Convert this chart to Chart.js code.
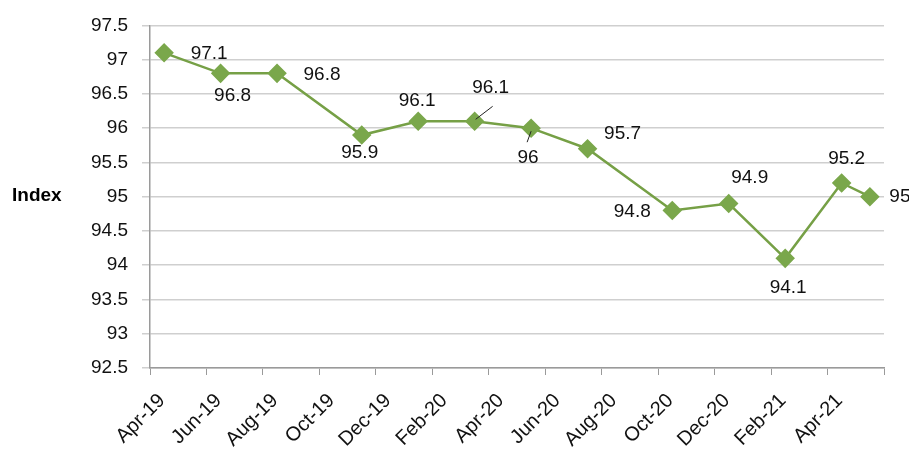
<!DOCTYPE html>
<html lang="en">
<head>
    <meta charset="UTF-8">
    <title>Index</title>
    <script src="https://cdn.jsdelivr.net/npm/chart.js"></script>
    <style>
        html, body { margin: 0; padding: 0; background: #fff; }
        #wrap { width: 909px; height: 450px; position: relative; }
    </style>
</head>
<body>
    <div id="wrap">
        <canvas id="indexChart" width="909" height="450"></canvas>
    </div>

<script>
// dados: meses desde Apr-19 (meio do mês) e valores do índice
const pointMonths = [0.5, 2.5, 4.5, 7.5, 9.5, 11.5, 13.5, 15.5, 18.5, 20.5, 22.5, 24.5, 25.5];
const indexValues = [97.1, 96.8, 96.8, 95.9, 96.1, 96.1, 96.0, 95.7, 94.8, 94.9, 94.1, 95.2, 95.0];
const pointLabels = ['97.1', '96.8', '96.8', '95.9', '96.1', '96.1', '96', '95.7', '94.8', '94.9', '94.1', '95.2', '95'];
const tickLabels = ['Apr-19', 'Jun-19', 'Aug-19', 'Oct-19', 'Dec-19', 'Feb-20', 'Apr-20',
                    'Jun-20', 'Aug-20', 'Oct-20', 'Dec-20', 'Feb-21', 'Apr-21', ''];
const yTicks = [92.5, 93, 93.5, 94, 94.5, 95, 95.5, 96, 96.5, 97, 97.5];

// posição dos rótulos relativa ao ponto (estilo)
const labelOffsets = [[45, 1], [12, 22], [45, 1], [-2, 18], [-1, -21], [16, -34], [-3, 30],
                      [35, -15], [-40, 1], [21, -26], [3, 29], [5, -24], [30, 0]];
const leaderLines = { 5: [[18, -15], [1, -2]], 6: [[0, 3], [-4, 14]] };

const FONT = '"Liberation Sans", Arial, sans-serif';
const green = '#76a046';

// rótulos de dados e título "Index"
const labelPlugin = {
    id: 'labelPlugin',
    afterDatasetsDraw(chart) {
        const ctx = chart.ctx;
        const meta = chart.getDatasetMeta(0);
        ctx.save();
        ctx.font = '19px ' + FONT;
        ctx.fillStyle = '#111';
        ctx.textAlign = 'center';
        ctx.textBaseline = 'middle';
        meta.data.forEach((pt, i) => {
            const off = labelOffsets[i];
            ctx.fillText(pointLabels[i], pt.x + off[0], pt.y + off[1]);
            if (leaderLines[i]) {
                const l = leaderLines[i];
                ctx.beginPath();
                ctx.strokeStyle = '#222';
                ctx.lineWidth = 1;
                ctx.moveTo(pt.x + l[0][0], pt.y + l[0][1]);
                ctx.lineTo(pt.x + l[1][0], pt.y + l[1][1]);
                ctx.stroke();
            }
        });
        // titulo do eixo y (horizontal)
        const y = chart.scales.y;
        ctx.font = 'bold 19px ' + FONT;
        ctx.textAlign = 'left';
        ctx.fillStyle = '#000';
        ctx.fillText('Index', 12, y.getPixelForValue(95) - 1);
        ctx.restore();
    }
};

const data = pointMonths.map((m, i) => ({ x: m, y: indexValues[i] }));

const ctx = document.getElementById('indexChart').getContext('2d');
new Chart(ctx, {
    type: 'line',
    data: {
        datasets: [{
            label: 'Index',
            data: data,
            borderColor: green,
            backgroundColor: green,
            borderWidth: 2.5,
            pointStyle: 'rectRot',
            pointRadius: 8,
            pointBackgroundColor: '#7aa74b',
            pointBorderColor: '#7aa74b',
            tension: 0
        }]
    },
    options: {
        responsive: false,
        animation: false,
        layout: { padding: { top: 21, right: 25, left: 0, bottom: 0 } },
        plugins: {
            legend: { display: false },
            tooltip: { enabled: false }
        },
        scales: {
            x: {
                type: 'linear',
                min: 0,
                max: 26,
                afterBuildTicks: s => { s.ticks = tickLabels.map((t, i) => ({ value: i * 2 })); },
                afterFit: s => { s.height = 82; s.paddingRight = 0; s.paddingLeft = 0; },
                ticks: {
                    autoSkip: false,
                    minRotation: 45,
                    maxRotation: 45,
                    labelOffset: 12,
                    padding: 14,
                    color: '#111',
                    font: { family: FONT, size: 20 },
                    callback: (v, i) => tickLabels[i]
                },
                grid: { drawOnChartArea: false, drawTicks: true, tickLength: 7, color: '#9a9a9a' },
                border: { color: '#9a9a9a', width: 1.5 }
            },
            y: {
                min: 92.5,
                max: 97.5,
                afterBuildTicks: s => { s.ticks = yTicks.map(v => ({ value: v })); },
                afterFit: s => { s.width = 150; },
                ticks: {
                    padding: 14,
                    color: '#111',
                    font: { family: FONT, size: 19 },
                    callback: v => String(v)
                },
                grid: { color: '#cfcfcf', lineWidth: 1.5, tickLength: 8 },
                border: { color: '#9a9a9a', width: 1.5 }
            }
        }
    },
    plugins: [labelPlugin]
});
</script>
</body>
</html>
